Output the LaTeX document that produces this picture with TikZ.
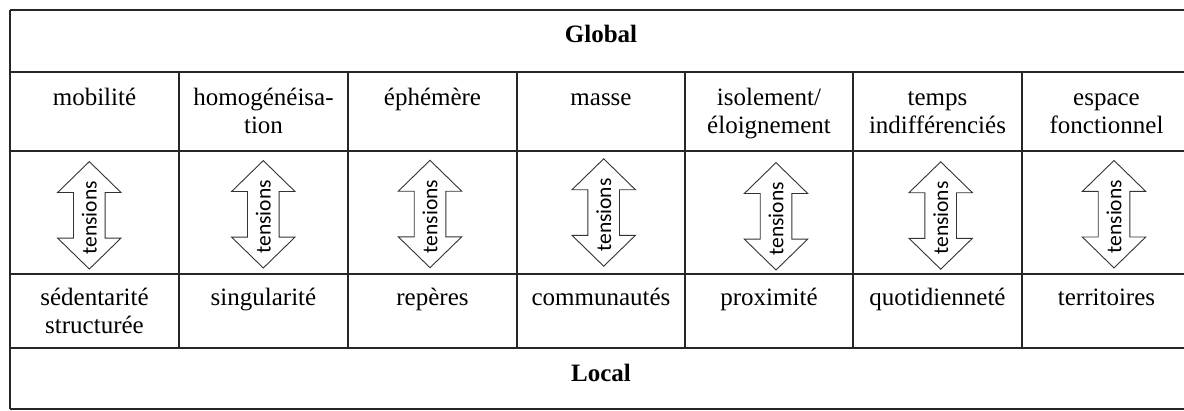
\documentclass[tikz,border=0pt]{standalone}
\usepackage{fontspec}
\setmainfont{Liberation Serif}
\newfontfamily\carlito{Carlito}
\begin{document}
\begin{tikzpicture}[x=1pt,y=-1pt,
  grid/.style={line width=1.3pt,draw=black!85},
  arrowline/.style={line width=0.9pt,draw=black!80,fill=white,line join=miter},
  cell/.style={text width=165pt,align=center,inner sep=0pt,anchor=base,
    font=\fontsize{25}{28}\selectfont},
  headtxt/.style={inner sep=0pt,anchor=base,font=\fontsize{25}{28}\selectfont\bfseries},
  tens/.style={rotate=90,inner sep=0pt,font=\carlito\fontsize{21.5}{24}\selectfont},
  tensarrow/.pic={
    \draw[arrowline] (0,-53.7) -- (31.7,-22.8) -- (15.8,-22.8) -- (15.8,22.8)
      -- (31.7,22.8) -- (0,53.7) -- (-31.7,22.8) -- (-15.8,22.8)
      -- (-15.8,-22.8) -- (-31.7,-22.8) -- cycle;
    \node[tens] (-t) at (0,2.5) {tensions};
  }]
\useasboundingbox (0,0) rectangle (1184,410);
\fill[white] (0,0) rectangle (1184,410);
% table rules
\foreach \yy in {10,72,151,274,348,409}
  \draw[grid] (10,\yy) -- (1184,\yy);
\draw[grid] (10,10) -- (10,409);
\foreach \xx in {179,348,517,685,853,1022}
  \draw[grid] (\xx,72) -- (\xx,348);
% title rows
\node[headtxt] (global) at (601,42) {Global};
\node[headtxt] (local) at (601,381) {Local};
% header row
\node[cell] (g1) at (94.5,105.5) {mobilité};
\node[cell] (g2) at (263.5,105.5) {homogénéisa-\\tion};
\node[cell] (g3) at (432.5,105.5) {éphémère};
\node[cell] (g4) at (601,105.5) {masse};
\node[cell] (g5) at (769,105.5) {isolement/\\éloignement};
\node[cell] (g6) at (937.5,105.5) {temps\\indifférenciés};
\node[cell] (g7) at (1106.5,105.5) {espace\\fonctionnel};
% bottom row
\node[cell] (l1) at (94.5,305.5) {sédentarité\\structurée};
\node[cell] (l2) at (263.5,305.5) {singularité};
\node[cell] (l3) at (432.5,305.5) {repères};
\node[cell] (l4) at (601,305.5) {communautés};
\node[cell] (l5) at (769,305.5) {proximité};
\node[cell] (l6) at (937.5,305.5) {quotidienneté};
\node[cell] (l7) at (1106.5,305.5) {territoires};
% tension arrows
\pic (a1) at (89.3,215.3) {tensarrow};
\pic (a2) at (263.3,214.3) {tensarrow};
\pic (a3) at (430,214) {tensarrow};
\pic (a4) at (603.7,212.5) {tensarrow};
\pic (a5) at (776,216.3) {tensarrow};
\pic (a6) at (940.7,215.5) {tensarrow};
\pic (a7) at (1114,214.2) {tensarrow};
\end{tikzpicture}
\end{document}
